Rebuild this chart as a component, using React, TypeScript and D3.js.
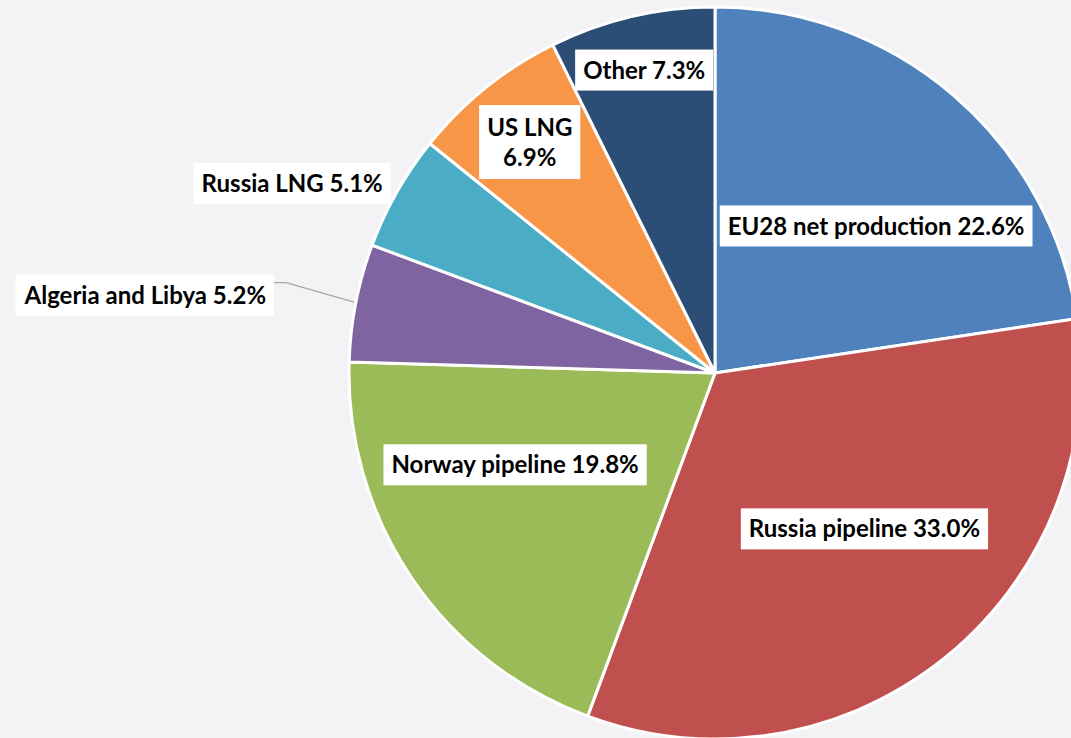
import React, { useEffect, useRef } from "react";
import * as d3 from "d3";

const categories = [
  "EU28 net production",
  "Russia pipeline",
  "Norway pipeline",
  "Algeria and Libya",
  "Russia LNG",
  "US LNG",
  "Other",
];
const shares = [22.6, 33.0, 19.8, 5.2, 5.1, 6.9, 7.3];
const colors = ["#4F81BD", "#C0504D", "#9BBB59", "#8064A2", "#4BACC6", "#F79646", "#2C4D75"];
const labelLines = [
  ["EU28 net production 22.6%"],
  ["Russia pipeline 33.0%"],
  ["Norway pipeline 19.8%"],
  ["Algeria and Libya 5.2%"],
  ["Russia LNG 5.1%"],
  ["US LNG", "6.9%"],
  ["Other 7.3%"],
];
// label placement: radius factor and angle shift (deg) relative to slice middle
const labelRadius = [0.596, 0.59, 0.601, 1.571, 1.266, 0.809, 0.85];
const labelShift = [6.9, -4.7, 9.3, -3.3, -5.5, 0, 0];

const W = 1071;
const H = 738;

export default function App() {
  const ref = useRef<SVGSVGElement>(null);
  useEffect(() => {
    const svg = d3.select(ref.current);
    svg.selectAll("*").remove();
    const cx = 715, cy = 373, R = 366;
    const g = svg.append("g").attr("transform", `translate(${cx},${cy})`);
    const data = categories.map((c, i) => ({ c, v: shares[i], i }));
    const pie = d3.pie<any>().value((d) => d.v).sort(null);
    const arcs = pie(data);
    const arc = d3.arc<any>().innerRadius(0).outerRadius(R);
    g.selectAll("path.slice")
      .data(arcs)
      .join("path")
      .attr("class", "slice")
      .attr("d", arc)
      .attr("fill", (d) => colors[d.index])
      .attr("stroke", "#ffffff")
      .attr("stroke-width", 3)
      .attr("stroke-linejoin", "round");

    const fs = 24;
    const lh = 30;
    arcs.forEach((a, i) => {
      const mid = (a.startAngle + a.endAngle) / 2 + (labelShift[i] * Math.PI) / 180;
      const r = labelRadius[i] * R;
      const x = Math.sin(mid) * r;
      const y = -Math.cos(mid) * r;
      const lg = g.append("g");
      const rect = lg.append("rect").attr("fill", "#ffffff");
      const lines = labelLines[i];
      const t = lg
        .append("text")
        .attr("text-anchor", "middle")
        .attr("font-family", "Lato, 'Open Sans', sans-serif")
        .attr("font-weight", 700)
        .attr("font-size", fs)
        .attr("fill", "#000");
      lines.forEach((ln, k) => {
        t.append("tspan")
          .attr("x", x)
          .attr("y", y + (k - (lines.length - 1) / 2) * lh + fs * 0.36)
          .text(ln);
      });
      const bb = (t.node() as SVGTextElement).getBBox();
      const padX = 8;
      const boxH = lines.length === 1 ? 41 : 74;
      const bx = bb.x - padX;
      const bw = bb.width + padX * 2;
      const by = y - boxH / 2;
      rect.attr("x", bx).attr("y", by).attr("width", bw).attr("height", boxH);
      if (labelRadius[i] > 1.4) {
        // leader line from box to slice edge
        const m0 = (a.startAngle + a.endAngle) / 2;
        const ex = Math.sin(m0) * R;
        const ey = -Math.cos(m0) * R;
        const sx = bx + bw;
        const sy = by + 8;
        g.insert("path", ":first-child")
          .attr("d", `M${sx},${sy}L${sx + 12},${sy}L${ex},${ey}`)
          .attr("fill", "none")
          .attr("stroke", "#a6a6a6")
          .attr("stroke-width", 1.3);
      }
    });
  }, []);
  return (
    <div style={{ position: "absolute", left: 0, top: 0, width: W, height: H, overflow: "hidden", background: "#f3f3f6" }}>
      <svg ref={ref} width={W} height={H} style={{ display: "block" }} />
    </div>
  );
}
